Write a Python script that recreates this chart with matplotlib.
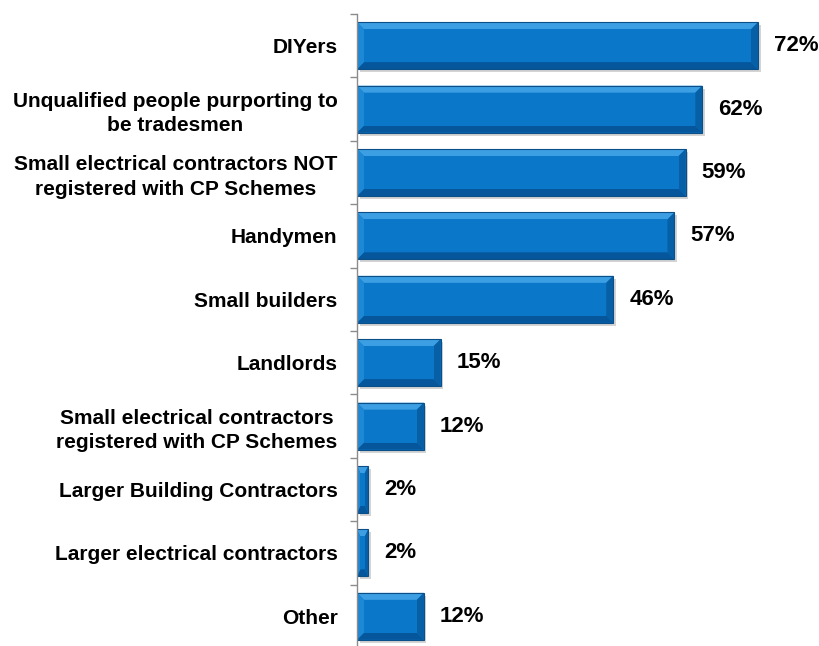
import matplotlib
matplotlib.use("Agg")
import matplotlib.pyplot as plt
from matplotlib.patches import Polygon, Rectangle
from matplotlib.ticker import FixedLocator

plt.rcParams['font.family'] = ['Liberation Sans', 'DejaVu Sans']

categories = [
    "DIYers",
    "Unqualified people purporting to\nbe tradesmen",
    "Small electrical contractors NOT\nregistered with CP Schemes",
    "Handymen",
    "Small builders",
    "Landlords",
    "Small electrical contractors\nregistered with CP Schemes",
    "Larger Building Contractors",
    "Larger electrical contractors",
    "Other",
]
values = [72, 62, 59, 57, 46, 15, 12, 2, 2, 12]
value_labels = ["72%", "62%", "59%", "57%", "46%", "15%", "12%", "2%", "2%", "12%"]

W, H = 819, 646
fig = plt.figure(figsize=(W / 100, H / 100), dpi=100)

axis_left_px = 357
px_per_unit = 5.57
xmax = (W - axis_left_px) / px_per_unit
top_px, bottom_px = 14, 648
ax = fig.add_axes([axis_left_px / W, 1 - bottom_px / H,
                   1 - axis_left_px / W, (bottom_px - top_px) / H])
ax.set_xlim(0, xmax)
n = len(categories)
ax.set_ylim(n - 0.5, -0.5)

px_per_row = (bottom_px - top_px) / n
bar_h = 0.74

base = "#0a77c9"
top_c = "#3d9fe3"
left_c = "#1c88d6"
right_c = "#075fa6"
bot_c = "#05569a"
edge_c = "#0b4f88"

for i, v in enumerate(values):
    x0, x1 = 0.0, float(v)
    yt, yb = i - bar_h / 2, i + bar_h / 2
    # soft drop shadow
    sdx = 2.5 / px_per_unit
    sdy = 3.0 / px_per_row
    ax.add_patch(Rectangle((x0 + sdx, yt + sdy), x1 - x0, yb - yt,
                           facecolor="#b8b8b8", edgecolor="none",
                           alpha=0.6, zorder=1))
    # bevel sizes in data units
    bx = min(7.0 / px_per_unit, (x1 - x0) * 0.3)
    by = min(7.0 / px_per_row, bar_h * 0.3)
    ix0, ix1 = x0 + bx, x1 - bx
    iyt, iyb = yt + by, yb - by
    ax.add_patch(Rectangle((x0, yt), x1 - x0, yb - yt,
                           facecolor=base, edgecolor="none", zorder=2))
    faces = [
        ([(x0, yt), (x1, yt), (ix1, iyt), (ix0, iyt)], top_c),
        ([(x0, yb), (x1, yb), (ix1, iyb), (ix0, iyb)], bot_c),
        ([(x0, yt), (ix0, iyt), (ix0, iyb), (x0, yb)], left_c),
        ([(x1, yt), (ix1, iyt), (ix1, iyb), (x1, yb)], right_c),
    ]
    for pts, c in faces:
        ax.add_patch(Polygon(pts, closed=True, facecolor=c,
                             edgecolor="none", zorder=3))
    ax.add_patch(Rectangle((ix0, iyt), ix1 - ix0, iyb - iyt,
                           facecolor=base, edgecolor="none", zorder=4))
    ax.add_patch(Rectangle((x0, yt), x1 - x0, yb - yt,
                           facecolor="none", edgecolor=edge_c,
                           linewidth=0.8, zorder=5))
    ax.text(v + 16 / px_per_unit, i, value_labels[i], ha="left",
            va="center", fontsize=16, fontweight="bold", color="#000000")

for s in ("top", "right", "bottom"):
    ax.spines[s].set_visible(False)
ax.spines["left"].set_color("#8c8c8c")
ax.spines["left"].set_linewidth(1.0)
ax.spines["left"].set_zorder(6)

ax.set_xticks([])
ax.set_yticks(range(n))
ax.set_yticklabels(categories, fontsize=15, fontweight="bold",
                   color="#000000", multialignment="center",
                   linespacing=1.35)
ax.tick_params(axis="y", which="major", length=0, pad=14)
ax.yaxis.set_minor_locator(FixedLocator([k - 0.5 for k in range(n + 1)]))
ax.tick_params(axis="y", which="minor", length=5, width=1.0,
               color="#8c8c8c", direction="out")

fig.savefig("out.png", dpi=100)
